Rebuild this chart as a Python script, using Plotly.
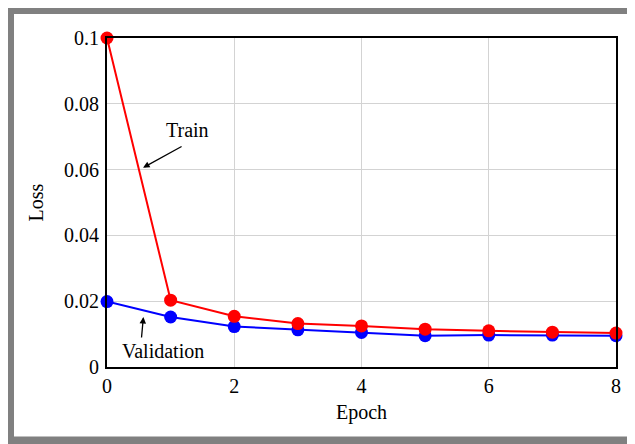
import plotly.graph_objects as go

epochs = [0, 1, 2, 3, 4, 5, 6, 7, 8]
train_loss = [0.100, 0.0203, 0.0154, 0.0132, 0.0125, 0.0115, 0.0110, 0.0106, 0.0103]
val_loss = [0.0199, 0.0152, 0.0123, 0.0113, 0.0105, 0.0095, 0.0097, 0.0097, 0.0095]

x_ticks = [0, 2, 4, 6, 8]
x_ticktext = ["0", "2", "4", "6", "8"]
y_ticks = [0, 0.02, 0.04, 0.06, 0.08, 0.1]
y_ticktext = ["0", "0.02", "0.04", "0.06", "0.08", "0.1"]

FONT = "Liberation Serif, Times New Roman, serif"

# page body adds an 8px offset; figure sized so that it fits the 635x444 window
FW, FH = 627, 436
L, T, W, H = 99, 30, 509, 329.5

fig = go.Figure()
fig.add_trace(go.Scatter(x=epochs, y=val_loss, mode="lines+markers", name="Validation",
                         line=dict(color="#0000ff", width=2),
                         marker=dict(color="#0000ff", size=13), cliponaxis=False))
fig.add_trace(go.Scatter(x=epochs, y=train_loss, mode="lines+markers", name="Train",
                         line=dict(color="#ff0000", width=2),
                         marker=dict(color="#ff0000", size=13), cliponaxis=False))

fig.add_annotation(x=1.26, y=0.0720, xref="x", yref="y", text="Train", showarrow=False,
                   font=dict(family=FONT, size=20, color="black"))
fig.add_annotation(x=0.567, y=0.0606, xref="x", yref="y", text="", showarrow=True,
                   ax=40, ay=-22, arrowhead=2, arrowsize=1, arrowwidth=1.3, arrowcolor="black")
fig.add_annotation(x=0.88, y=0.0050, xref="x", yref="y", text="Validation", showarrow=False,
                   font=dict(family=FONT, size=20, color="black"))
fig.add_annotation(x=0.572, y=0.0152, xref="x", yref="y", text="", showarrow=True,
                   ax=-2, ay=22, arrowhead=2, arrowsize=1, arrowwidth=1.3, arrowcolor="black")

# gray outer frame (screen coords: bands 6-14 left/top, 633+ right, 437+ bottom)
def px(sx):
    return (sx - 8 - L) / W

def py(sy):
    return (T + H - (sy - 8)) / H

fig.add_shape(type="rect", xref="paper", yref="paper",
              x0=px(10), x1=px(637), y0=py(441), y1=py(10),
              line=dict(color="#808080", width=8), fillcolor="rgba(0,0,0,0)", layer="below")

axis_common = dict(showline=True, linecolor="black", linewidth=2, mirror=True,
                   showgrid=True, gridcolor="#d3d3d3", gridwidth=1, zeroline=False,
                   ticks="", tickfont=dict(family=FONT, size=20, color="black"))

fig.update_xaxes(range=[0, 8], tickvals=x_ticks, ticktext=x_ticktext,
                 title=dict(text="Epoch", font=dict(family=FONT, size=20, color="black"), standoff=9),
                 ticklabelstandoff=0, **axis_common)
fig.update_yaxes(range=[0, 0.1], tickvals=y_ticks, ticktext=y_ticktext,
                 title=dict(text="Loss", font=dict(family=FONT, size=20, color="black"), standoff=15),
                 ticklabelstandoff=2, **axis_common)

fig.update_layout(width=FW, height=FH, showlegend=False,
                  margin=dict(l=L, r=FW - L - W, t=T, b=FH - T - H),
                  paper_bgcolor="white", plot_bgcolor="white",
                  font=dict(family=FONT, size=20, color="black"))

fig.write_html("out.html")
